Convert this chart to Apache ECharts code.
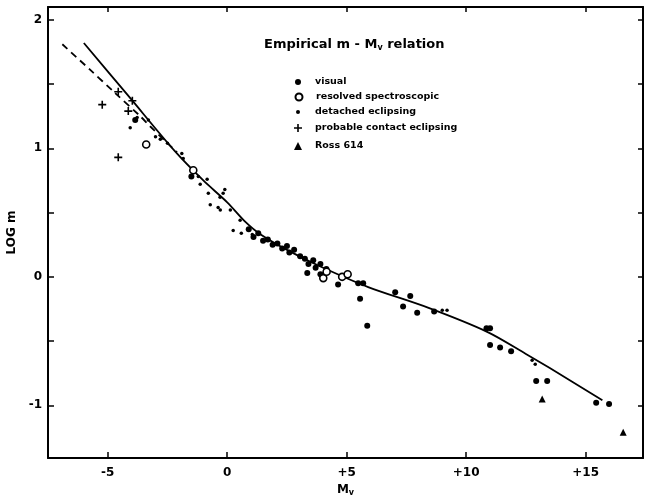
<!DOCTYPE html>
<html>
<head>
<meta charset="utf-8">
<script src="https://cdn.jsdelivr.net/npm/echarts@6/dist/echarts.min.js"></script>
<style>
  html, body { margin: 0; padding: 0; background: #fff; }
  #chart { width: 645px; height: 500px; }
</style>
</head>
<body>
<div id="chart"></div>
<script>
// Absolute visual magnitude M_v versus log mass for binary-star components.
const xTicks = [-5, 0, 5, 10, 15];
const xTickLabels = ['-5', '0', '+5', '+10', '+15'];
const yTicks = [-1, -0.5, 0, 0.5, 1, 1.5, 2];
const yLabelTicks = [-1, 0, 1, 2];
const yTickLabels = ['-1', '0', '1', '2'];

// visual binaries  [M_v, log m]
const visual = [
  [-1.5, 0.78], [-3.85, 1.22],
  [0.9, 0.37], [1.1, 0.31], [1.3, 0.34], [1.5, 0.28], [1.7, 0.29], [1.9, 0.25],
  [2.1, 0.26], [2.3, 0.22], [2.5, 0.24], [2.6, 0.19], [2.8, 0.21], [3.05, 0.16],
  [3.25, 0.14], [3.4, 0.10], [3.6, 0.13], [3.7, 0.07], [3.9, 0.10], [3.35, 0.03],
  [3.9, 0.02], [4.15, 0.06], [4.64, -0.06],
  [5.48, -0.05], [5.69, -0.05], [5.56, -0.17], [5.86, -0.38],
  [7.03, -0.12], [7.36, -0.23], [7.66, -0.15], [7.95, -0.28], [8.66, -0.27],
  [10.85, -0.40], [11.0, -0.40], [11.0, -0.53], [11.42, -0.55], [11.88, -0.58],
  [12.93, -0.81], [13.39, -0.81], [15.44, -0.98], [15.98, -0.99]
];
// resolved spectroscopic binaries
const resolved = [
  [-3.39, 1.03], [-1.42, 0.83], [4.02, -0.01], [4.16, 0.04], [4.81, 0.0], [5.04, 0.02]
];
// detached eclipsing binaries
const detached = [
  [-4.06, 1.16], [-3.77, 1.24], [-3.3, 1.22], [-3.0, 1.09], [-2.8, 1.07], [-2.5, 1.04],
  [-1.9, 0.96], [-1.84, 0.92], [-1.21, 0.78], [-1.13, 0.72], [-0.84, 0.76], [-0.79, 0.65],
  [-0.71, 0.56], [-0.38, 0.54], [-0.3, 0.62], [-0.17, 0.65], [-0.1, 0.68], [-0.29, 0.52],
  [0.13, 0.52], [0.25, 0.36], [0.54, 0.44], [0.59, 0.34], [1.05, 0.33],
  [9.0, -0.26], [9.2, -0.26], [12.76, -0.65], [12.89, -0.68]
];
// probable contact eclipsing binaries
const contact = [
  [-5.23, 1.34], [-4.56, 0.93], [-4.56, 1.44], [-3.97, 1.37], [-4.14, 1.29]
];
// Ross 614
const ross614 = [[13.18, -0.95], [16.57, -1.21]];

// empirical relation (solid) and its bright-end alternative (dashed)
const relationSolid = [
  [-6.0, 1.82], [-4.1, 1.40], [-2.2, 0.98], [-1.0, 0.75], [0.0, 0.58], [0.75, 0.43],
  [1.4, 0.33], [2.6, 0.20], [3.9, 0.08], [5.9, -0.08], [8.4, -0.24], [10.9, -0.43],
  [12.5, -0.60], [13.5, -0.71], [15.7, -0.96]
];
const relationDashed = [
  [-6.9, 1.81], [-5.73, 1.61], [-4.69, 1.43], [-3.64, 1.25], [-3.22, 1.17], [-2.5, 1.04], [-2.1, 0.97]
];

const FONT = 'DejaVu Sans';
const ink = '#000';

function lookup(ticks, labels) {
  return function (v) {
    for (let i = 0; i < ticks.length; i++) {
      if (Math.abs(ticks[i] - v) < 1e-6) return labels[i];
    }
    return '';
  };
}

const plusPath = 'path://M4,0h2v4h4v2h-4v4h-2v-4h-4v-2h4z';

// one legend block per entry so every key symbol keeps its own size
const legendRows = [
  { name: 'visual', cy: 82, size: 6 },
  { name: 'resolved spectroscopic', cy: 97, size: 7 },
  { name: 'detached eclipsing', cy: 112, size: 4 },
  { name: 'probable contact eclipsing', cy: 128, size: 8 },
  { name: 'Ross 614', cy: 146, size: 8 }
];
const legendSymbolX = 298;
const legendTextX = 315;

const chart = echarts.init(document.getElementById('chart'), null, { renderer: 'canvas' });

const option = {
  animation: false,
  backgroundColor: '#fff',
  textStyle: { fontFamily: FONT, color: ink },
  title: {
    text: '{t|Empirical m - M}{s|v}{t| relation}',
    left: 259, top: 32,
    textStyle: {
      rich: {
        t: { fontFamily: FONT, fontSize: 13, fontWeight: 'bold', color: ink },
        s: { fontFamily: FONT, fontSize: 8, fontWeight: 'bold', color: ink, padding: [7, 0, 0, 0] }
      }
    }
  },
  legend: legendRows.map(r => ({
    data: [r.name],
    orient: 'vertical',
    left: legendSymbolX - r.size / 2,
    top: r.cy - 7,
    padding: 0,
    itemWidth: r.size, itemHeight: r.size,
    itemStyle: { opacity: 1 },
    textStyle: {
      fontFamily: FONT, fontSize: 9.5, fontWeight: 'bold', color: ink,
      padding: [0, 0, 0, legendTextX - (legendSymbolX + r.size / 2) - 5],
      lineHeight: 14
    },
    selectedMode: false
  })),
  grid: { left: 48, right: 2, top: 7, bottom: 42, outerBoundsMode: 'none' },
  xAxis: [
    {
      type: 'value', min: -7.5, max: 17.4, position: 'bottom',
      name: '{a|M}{b|v}', nameLocation: 'middle', nameGap: 22,
      nameTextStyle: {
        rich: {
          a: { fontFamily: FONT, fontSize: 12, fontWeight: 'bold', color: ink },
          b: { fontFamily: FONT, fontSize: 8, fontWeight: 'bold', color: ink, padding: [6, 0, 0, 0] }
        }
      },
      axisLine: { onZero: false, lineStyle: { color: ink, width: 2 } },
      axisTick: { inside: true, length: 6, customValues: xTicks, lineStyle: { color: ink, width: 1.5 } },
      axisLabel: { customValues: xTicks, formatter: lookup(xTicks, xTickLabels), margin: 9,
        fontFamily: FONT, fontSize: 12, fontWeight: 'bold', color: ink },
      splitLine: { show: false }
    },
    {
      type: 'value', min: -7.5, max: 17.4, position: 'top',
      axisLine: { onZero: false, lineStyle: { color: ink, width: 2 } },
      axisTick: { inside: true, length: 5, customValues: xTicks, lineStyle: { color: ink, width: 1.5 } },
      axisLabel: { show: false },
      splitLine: { show: false }
    }
  ],
  yAxis: [
    {
      type: 'value', min: -1.41, max: 2.1, position: 'left',
      name: 'LOG m', nameLocation: 'middle', nameRotate: 90, nameGap: 26,
      nameTextStyle: { fontFamily: FONT, fontSize: 12, fontWeight: 'bold', color: ink },
      axisLine: { onZero: false, lineStyle: { color: ink, width: 2 } },
      axisTick: { inside: true, length: 6, customValues: yTicks, lineStyle: { color: ink, width: 1.5 } },
      axisLabel: { customValues: yLabelTicks, formatter: lookup(yLabelTicks, yTickLabels), margin: 6,
        fontFamily: FONT, fontSize: 12, fontWeight: 'bold', color: ink },
      splitLine: { show: false }
    },
    {
      type: 'value', min: -1.41, max: 2.1, position: 'right',
      axisLine: { onZero: false, lineStyle: { color: ink, width: 2 } },
      axisTick: { inside: true, length: 5, customValues: yTicks, lineStyle: { color: ink, width: 1.5 } },
      axisLabel: { show: false },
      splitLine: { show: false }
    }
  ],
  series: [
    {
      type: 'line', data: relationSolid, showSymbol: false, smooth: 0.3,
      lineStyle: { color: ink, width: 1.8 }, silent: true, z: 1
    },
    {
      type: 'line', data: relationDashed, showSymbol: false, smooth: 0.3,
      lineStyle: { color: ink, width: 1.8, type: [7, 5] }, silent: true, z: 1
    },
    {
      name: 'visual', type: 'scatter', data: visual, symbol: 'circle', symbolSize: 6,
      itemStyle: { color: ink, opacity: 1 }, z: 3
    },
    {
      name: 'resolved spectroscopic', type: 'scatter', data: resolved, symbol: 'circle', symbolSize: 7,
      itemStyle: { color: '#fff', borderColor: ink, borderWidth: 1.6, opacity: 1 }, z: 4
    },
    {
      name: 'detached eclipsing', type: 'scatter', data: detached, symbol: 'circle', symbolSize: 3.5,
      itemStyle: { color: ink, opacity: 1 }, z: 3
    },
    {
      name: 'probable contact eclipsing', type: 'scatter', data: contact, symbol: plusPath, symbolSize: 8,
      itemStyle: { color: ink, opacity: 1 }, z: 3
    },
    {
      name: 'Ross 614', type: 'scatter', data: ross614, symbol: 'triangle', symbolSize: 7,
      itemStyle: { color: ink, opacity: 1 }, z: 3
    }
  ]
};

chart.setOption(option);
</script>
</body>
</html>
